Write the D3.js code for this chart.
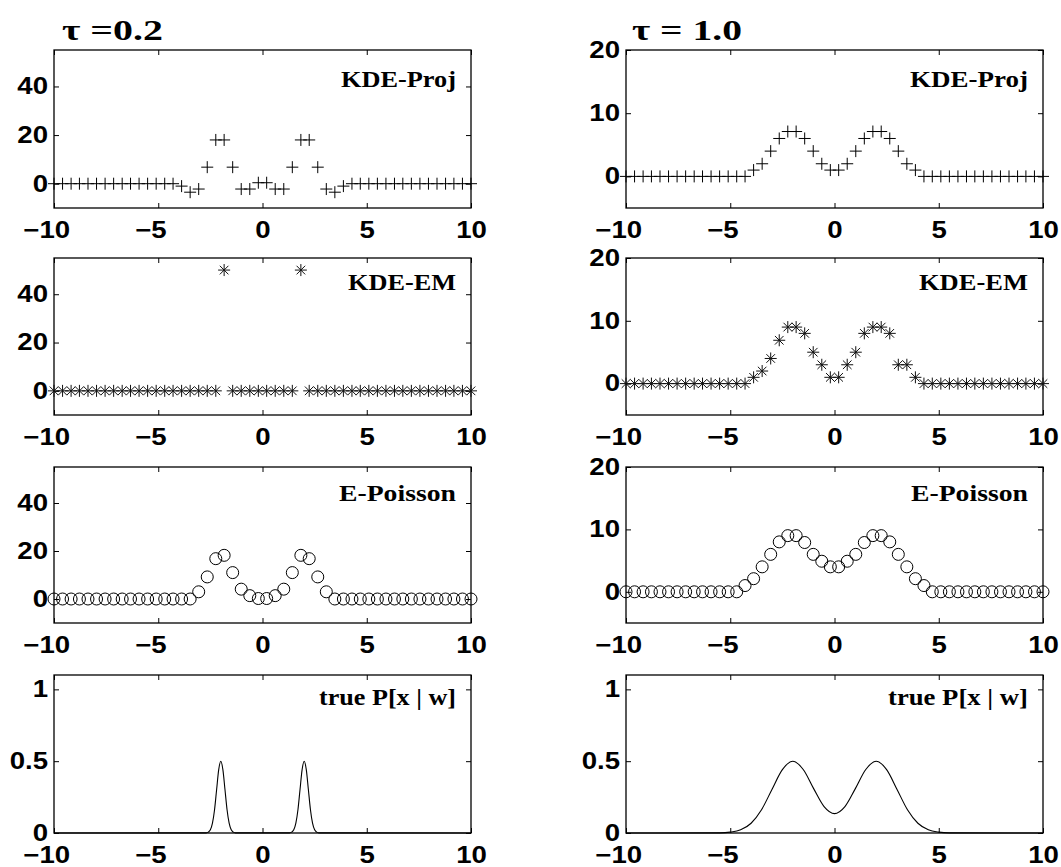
<!DOCTYPE html>
<html lang="en">
<head>
  <meta charset="UTF-8">
  <title>KDE comparison</title>
  <script src="https://d3js.org/d3.v7.min.js"></script>
  <style>
    body { margin: 0; background: #fff; }
    svg { display: block; }
  </style>
</head>
<body>
  <svg width="1061" height="867"></svg>
  <script>
    // sample grid (50 points on [-10, 10])
    const xGrid = [-10, -9.59, -9.18, -8.78, -8.37, -7.96, -7.55, -7.14, -6.73, -6.33,
      -5.92, -5.51, -5.10, -4.69, -4.29, -3.88, -3.47, -3.06, -2.65, -2.24,
      -1.84, -1.43, -1.02, -0.61, -0.20, 0.20, 0.61, 1.02, 1.43, 1.84,
      2.24, 2.65, 3.06, 3.47, 3.88, 4.29, 4.69, 5.10, 5.51, 5.92,
      6.33, 6.73, 7.14, 7.55, 7.96, 8.37, 8.78, 9.18, 9.59, 10];

    // tau = 0.2
    const projTau02 = [0, 0, 0, 0, 0, 0, 0, 0, 0, 0, 0, 0, 0, 0, 0,
      -1, -3.5, -2.2, 6.8, 18, 18, 6.8, -2.2, -2.2, 0.4,
      0.4, -2.2, -2.2, 6.8, 18, 18, 6.8, -2.2, -3.5, -1,
      0, 0, 0, 0, 0, 0, 0, 0, 0, 0, 0, 0, 0, 0, 0];
    const emTau02 = [0, 0, 0, 0, 0, 0, 0, 0, 0, 0, 0, 0, 0, 0, 0,
      0, 0, 0, 0, 0, 50, 0, 0, 0, 0,
      0, 0, 0, 0, 50, 0, 0, 0, 0, 0,
      0, 0, 0, 0, 0, 0, 0, 0, 0, 0, 0, 0, 0, 0, 0];
    const poisTau02 = [0, 0, 0, 0, 0, 0, 0, 0, 0, 0, 0, 0, 0, 0, 0,
      0, 0, 3, 9.2, 16.8, 18.2, 11, 4.1, 1.4, 0.2,
      0.2, 1.4, 4.1, 11, 18.2, 16.8, 9.2, 3, 0, 0,
      0, 0, 0, 0, 0, 0, 0, 0, 0, 0, 0, 0, 0, 0, 0];
    const trueXTau02 = [-10, -2.7, -2.6, -2.5, -2.4, -2.3, -2.2, -2.1, -2.0, -1.9, -1.8, -1.7, -1.6, -1.5, -1.4, -1.3,
      1.3, 1.4, 1.5, 1.6, 1.7, 1.8, 1.9, 2.0, 2.1, 2.2, 2.3, 2.4, 2.5, 2.6, 2.7, 10];
    const trueYTau02 = [0, 0.001, 0.006, 0.022, 0.068, 0.162, 0.303, 0.441, 0.5, 0.441, 0.303, 0.162, 0.068, 0.022, 0.006, 0.001,
      0.001, 0.006, 0.022, 0.068, 0.162, 0.303, 0.441, 0.5, 0.441, 0.303, 0.162, 0.068, 0.022, 0.006, 0.001, 0];

    // tau = 1.0
    const projTau10 = [0, 0, 0, 0, 0, 0, 0, 0, 0, 0, 0, 0, 0, 0, 0,
      1, 2, 4, 6, 7.1, 7.1, 6, 4, 2, 1,
      1, 2, 4, 6, 7.1, 7.1, 6, 4, 2, 1,
      0, 0, 0, 0, 0, 0, 0, 0, 0, 0, 0, 0, 0, 0, 0];
    const emTau10 = [0, 0, 0, 0, 0, 0, 0, 0, 0, 0, 0, 0, 0, 0, 0,
      1, 2, 4, 6.9, 9, 9, 8, 5, 3, 1,
      1, 3, 5, 8, 9, 9, 8, 3, 3, 1,
      0, 0, 0, 0, 0, 0, 0, 0, 0, 0, 0, 0, 0, 0, 0];
    const poisTau10 = [0, 0, 0, 0, 0, 0, 0, 0, 0, 0, 0, 0, 0, 0,
      1, 2.1, 4, 6, 8, 9, 9, 7.9, 6, 4.9, 4,
      4, 4.9, 6, 7.9, 9, 9, 8, 6, 4, 2.1, 1,
      0, 0, 0, 0, 0, 0, 0, 0, 0, 0, 0, 0, 0, 0];
    const trueXTau10 = [-10, -5.5, -5, -4.5, -4, -3.5, -3, -2.5, -2, -1.5, -1, -0.5, 0,
      0.5, 1, 1.5, 2, 2.5, 3, 3.5, 4, 4.5, 5, 5.5, 10];
    const trueYTau10 = [0, 0.001, 0.006, 0.022, 0.068, 0.162, 0.303, 0.441, 0.5, 0.442, 0.309, 0.184, 0.135,
      0.184, 0.309, 0.442, 0.5, 0.441, 0.303, 0.162, 0.068, 0.022, 0.006, 0.001, 0];

    const columnTitles = ["\u03c4 =0.2", "\u03c4 = 1.0"];
    const panelLabels = ["KDE-Proj", "KDE-EM", "E-Poisson", "true P[x | w]"];
    const xTicks = [-10, -5, 0, 5, 10];
    const yTicksTau02 = [0, 20, 40];
    const yTicksTau10 = [0, 10, 20];
    const yTicksTrue = [0, 0.5, 1];

    const svg = d3.select("svg");

    const colLeft = [54, 626], colRight = [471, 1043];
    const rowTop = [50, 258, 467, 675], rowBottom = [208, 415, 623, 833];
    const labelDrop = [37, 32, 34, 30];
    // label widths as they appear in the original (serif is wider there)
    const labelWidth = [[115, 108, 117, 137], [118, 109, 117, 140]];
    const titleWidth = [101, 110];

    const columns = [
      { title: columnTitles[0], yDomain: [-10, 55], yTicks: yTicksTau02,
        series: [projTau02, emTau02, poisTau02], trueX: trueXTau02, trueY: trueYTau02 },
      { title: columnTitles[1], yDomain: [-5, 20], yTicks: yTicksTau10,
        series: [projTau10, emTau10, poisTau10], trueX: trueXTau10, trueY: trueYTau10 }
    ];
    const markerKind = ["plus", "star", "circle"];
    const fmt = d3.format("");

    function drawMarker(g, kind) {
      if (kind === "circle") {
        g.append("circle").attr("r", 6).attr("fill", "none").attr("stroke", "#000").attr("stroke-width", 1);
      } else if (kind === "plus") {
        g.append("path").attr("d", "M-6,0H6M0,-6V6").attr("stroke", "#000").attr("stroke-width", 1);
      } else {
        g.append("path").attr("d", "M-6,0H6M0,-6V6M-4.3,-4.3L4.3,4.3M-4.3,4.3L4.3,-4.3")
          .attr("stroke", "#111").attr("stroke-width", 1);
      }
    }

    columns.forEach((col, c) => {
      svg.append("text")
        .attr("x", c === 0 ? 62 : 632).attr("y", 40)
        .attr("font-family", "Liberation Serif, serif").attr("font-weight", "bold")
        .attr("font-size", 30)
        .attr("textLength", titleWidth[c]).attr("lengthAdjust", "spacingAndGlyphs")
        .text(col.title);

      for (let r = 0; r < 4; r++) {
        const x = d3.scaleLinear().domain([-10, 10]).range([colLeft[c], colRight[c]]);
        const y = d3.scaleLinear()
          .domain(r === 3 ? [0, 1.1] : col.yDomain)
          .range([rowBottom[r], rowTop[r]]);
        const yt = r === 3 ? yTicksTrue : col.yTicks;
        const g = svg.append("g");

        const styleAxis = a => {
          a.select(".domain").remove();
          a.selectAll("line").attr("stroke", "#000");
          a.selectAll("text").attr("font-family", "Liberation Sans, Arial, sans-serif")
            .attr("font-weight", "bold").attr("font-size", 23).attr("fill", "#000")
            .attr("transform", "scale(1.2,1)");
        };

        g.append("g").attr("transform", `translate(0,${rowBottom[r]})`)
          .call(d3.axisBottom(x).tickValues(xTicks).tickFormat(fmt)
            .tickSizeInner(-5).tickSizeOuter(0).tickPadding(14))
          .call(styleAxis)
          .call(a => a.selectAll("text").attr("x", d => d < 0 ? -6.5 : 0));
        g.append("g").attr("transform", `translate(0,${rowTop[r]})`)
          .call(d3.axisTop(x).tickValues(xTicks).tickSizeInner(-5).tickSizeOuter(0).tickFormat(""))
          .call(styleAxis);
        g.append("g").attr("transform", `translate(${colLeft[c]},0)`)
          .call(d3.axisLeft(y).tickValues(yt).tickFormat(fmt)
            .tickSizeInner(-5).tickSizeOuter(0).tickPadding(5))
          .call(styleAxis);
        g.append("g").attr("transform", `translate(${colRight[c]},0)`)
          .call(d3.axisRight(y).tickValues(yt).tickSizeInner(-5).tickSizeOuter(0).tickFormat(""))
          .call(styleAxis);

        g.append("rect")
          .attr("x", colLeft[c]).attr("y", rowTop[r])
          .attr("width", colRight[c] - colLeft[c]).attr("height", rowBottom[r] - rowTop[r])
          .attr("fill", "none").attr("stroke", "#000").attr("stroke-width", 1.3);

        if (r < 3) {
          const vals = col.series[r];
          g.append("g").selectAll("g")
            .data(xGrid.map((xv, i) => [xv, vals[i]]))
            .join("g")
            .attr("transform", d => `translate(${x(d[0])},${y(d[1])})`)
            .each(function () { drawMarker(d3.select(this), markerKind[r]); });
        } else {
          const line = d3.line().x(d => x(d[0])).y(d => y(d[1])).curve(d3.curveMonotoneX);
          g.append("path")
            .attr("d", line(col.trueX.map((xv, i) => [xv, col.trueY[i]])))
            .attr("fill", "none").attr("stroke", "#000").attr("stroke-width", 1.1);
        }

        g.append("text")
          .attr("x", colRight[c] - 15).attr("y", rowTop[r] + labelDrop[r])
          .attr("text-anchor", "end")
          .attr("font-family", "Liberation Serif, serif").attr("font-weight", "bold")
          .attr("font-size", 23)
          .attr("textLength", labelWidth[c][r]).attr("lengthAdjust", "spacingAndGlyphs")
          .text(panelLabels[r]);
      }
    });
  </script>
</body>
</html>
